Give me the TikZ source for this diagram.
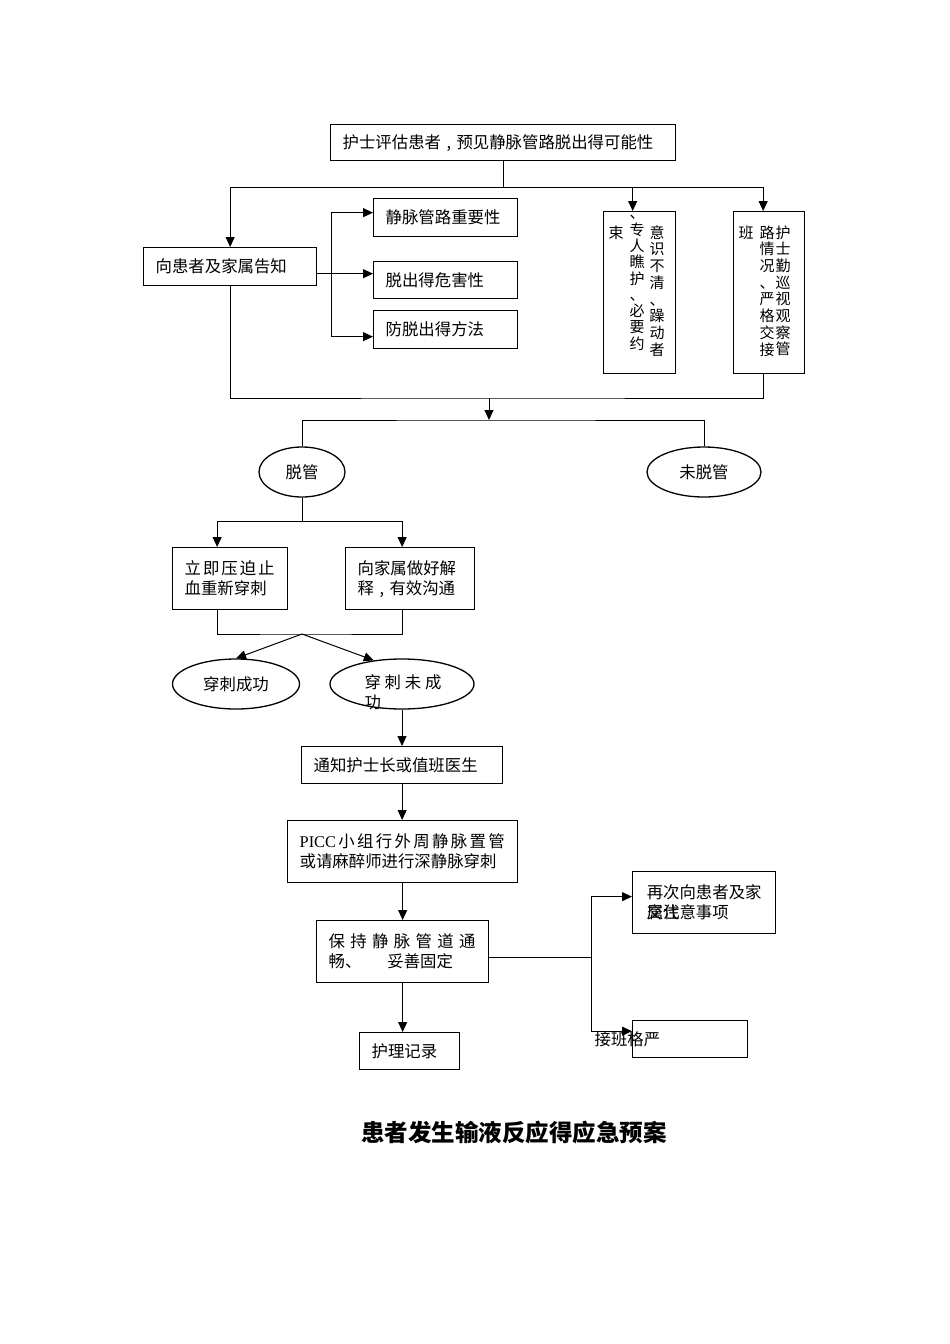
\documentclass[tikz,border=0pt]{standalone}
\usepackage{fontspec}
\setmainfont{Noto Sans CJK SC}
\newfontfamily\latinfont{Liberation Serif}
\usetikzlibrary{arrows.meta,shapes.geometric}

\tikzset{
  box/.style={draw, line width=1.3pt, inner xsep=12pt, inner ysep=0pt, align=left, anchor=north west},
  oval/.style={draw, ellipse, line width=1.3pt, minimum height=50pt, inner sep=0pt},
  vtext/.style={align=center, inner sep=0pt, anchor=north, font=\fontsize{15}{16.7}\selectfont},
  >={Triangle[length=10pt,width=9pt]}
}

\begin{document}
\begin{tikzpicture}[x=1pt, y=-1pt, line width=1pt, font=\fontsize{16.4}{20}\selectfont]
\useasboundingbox (0,0) rectangle (950,1344);

% assessment and information
\node[box, text width=321pt, minimum height=36pt] (top) at (330,124) {护士评估患者 , 预见静脉管路脱出得可能性};
\node[box, text width=149pt, minimum height=38pt] (inform) at (143,247) {向患者及家属告知};
\node[box, text width=120pt, minimum height=38pt] (vein) at (373,198) {静脉管路重要性};
\node[box, text width=120pt, minimum height=37pt] (harm) at (373,261) {脱出得危害性};
\node[box, text width=120pt, minimum height=38pt] (method) at (373,310) {防脱出得方法};

% the two upright boxes
\node[box, minimum width=72pt, minimum height=162pt] (care) at (603,211) {};
\node[vtext] (care1) at (657,225) {意\\识\\不\\清\\、\\躁\\动\\者};
\node[vtext, font=\fontsize{15}{16.3}\selectfont] (care2) at (637,215) {、\\专\\人\\瞧\\护\\、\\必\\要\\约};
\node[vtext] (care3) at (616,225) {束};
\node[box, minimum width=71pt, minimum height=162pt] (watch) at (733,211) {};
\node[vtext] (watch1) at (783,225) {护\\士\\勤\\巡\\视\\观\\察\\管};
\node[vtext] (watch2) at (767,225) {路\\情\\况\\、\\严\\格\\交\\接};
\node[vtext] (watch3) at (746,225) {班};

% outcome
\node[oval, minimum width=86pt] (off) at (302,472) {脱管};
\node[oval, minimum width=114pt] (stay) at (704,472) {未脱管};
\node[box, text width=91pt, minimum height=62pt] (press) at (172,547) {\makebox[90pt]{立\hfill 即\hfill 压\hfill 迫\hfill 止}\\血重新穿刺};
\node[box, text width=105pt, minimum height=62pt] (talk) at (345,547) {向家属做好解\\释 , 有效沟通};
\node[oval, minimum width=127pt] (ok) at (236,684) {穿刺成功};
\node[oval, minimum width=144pt] (fail) at (402,684) {};
\node[align=left, inner sep=0pt, anchor=base west] (failtxt) at (364,708) {\makebox[77pt]{穿\hfill 刺\hfill 未\hfill 成}\\功};

% further steps
\node[box, text width=177pt, minimum height=37pt] (notify) at (301,746) {通知护士长或值班医生};
\node[box, text width=206pt, minimum height=62pt] (picc) at (287,820) {\makebox[205pt]{{\latinfont PICC}\hfill 小\hfill 组\hfill 行\hfill 外\hfill 周\hfill 静\hfill 脉\hfill 置\hfill 管}\\或请麻醉师进行深静脉穿刺};
\node[box, text width=148pt, minimum height=62pt] (keep) at (316,920) {\makebox[147pt]{保\hfill 持\hfill 静\hfill 脉\hfill 管\hfill 道\hfill 通}\\畅、\hspace{26pt}妥善固定};
\node[box, text width=76pt, minimum height=37pt] (record) at (359,1032) {护理记录};
\node[box, minimum width=143pt, minimum height=62pt] (recheck) at (632,871) {再次向患者及家\\\makebox[0pt][l]{属}交\makebox[0pt][l]{代}注意事项\hspace{33pt}};
\node[box, text width=91pt, minimum height=37pt] (handover) at (632,1020) {\hspace*{-50pt}接班格严};

\node[font=\fontsize{23.5}{26}\selectfont\bfseries] (title) at (514,1133) {患者发生输液反应得应急预案};

% connectors
\path (top.south) ++(0,26) coordinate (s1);
\draw (top.south) -- (s1);
\draw[->] (s1) -| (inform.north);
\draw[->] (s1) -| ([xshift=-7pt]care.north);
\draw[->] (s1) -| ([xshift=-6pt]watch.north);

\draw[->] ([yshift=-7pt]inform.east) -- ([yshift=-7pt]inform.east -| harm.west);
\path ([yshift=-7pt]inform.east) ++(14,0) coordinate (bus);
\draw ([yshift=5pt]vein.west -| bus) -- ([yshift=-7pt]method.west -| bus);
\draw[->] ([yshift=5pt]vein.west -| bus) -- ([yshift=5pt]vein.west);
\draw[->] ([yshift=-7pt]method.west -| bus) -- ([yshift=-7pt]method.west);

\coordinate (m) at (489,398);
\coordinate (s2) at (489,420);
\draw (inform.south) |- (m) -| ([xshift=-6pt]watch.south);
\draw[->] (m) -- (s2);
\draw (off.north) |- (s2) -| (stay.north);

\coordinate (s3) at (302,521);
\coordinate (j) at (302,634);
\draw (off.south) -- (s3);
\draw[->] (s3) -| ([xshift=-13pt]press.north);
\draw[->] (s3) -| ([xshift=-8pt]talk.north);
\draw ([xshift=-13pt]press.south) |- (j) -| ([xshift=-8pt]talk.south);
\draw[->] (j) -- (ok.north);
\draw[->] (j) -- (fail.140);

\draw[->] (fail.south) -- (fail.south |- notify.north);
\draw[->] (notify.south) -- (notify.south |- picc.north);
\draw[->] (picc.south) -- (picc.south |- keep.north);
\draw[->] (keep.south) -- (keep.south |- record.north);

\path ([yshift=-6pt]keep.east) ++(102,0) coordinate (f);
\draw ([yshift=-6pt]keep.east) -- (f);
\draw[->] (f) |- ([yshift=6pt]recheck.west);
\draw[->] (f) |- ([yshift=8pt]handover.west);
\end{tikzpicture}
\end{document}
